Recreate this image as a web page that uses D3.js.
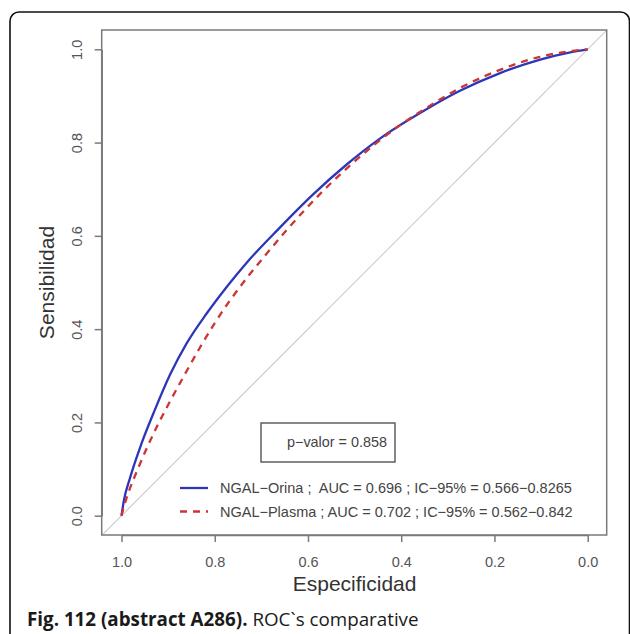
<!DOCTYPE html>
<html><head><meta charset="utf-8">
<script src="https://cdn.jsdelivr.net/npm/d3@7"></script>
<style>body{margin:0;background:#fff}</style>
</head><body><svg id="c" width="630" height="634"></svg>
<script>
// ---- data ----
const orinaSpec = [1.0, 0.995, 0.982, 0.957, 0.928, 0.896, 0.86, 0.817, 0.774, 0.731, 0.664, 0.589, 0.517, 0.445, 0.345, 0.274, 0.188, 0.102, 0.04, 0.0];
const orinaSens = [0.0, 0.032, 0.08, 0.155, 0.228, 0.302, 0.37, 0.434, 0.491, 0.543, 0.614, 0.689, 0.753, 0.809, 0.872, 0.911, 0.949, 0.978, 0.993, 1.0];
const plasmaSpec = [1.0, 0.995, 0.989, 0.96, 0.9245, 0.896, 0.867, 0.832, 0.80, 0.767, 0.731, 0.696, 0.646, 0.567, 0.503, 0.41, 0.353, 0.274, 0.188, 0.102, 0.038, 0.0];
const plasmaSens = [0.0, 0.019, 0.038, 0.112, 0.19, 0.245, 0.298, 0.36, 0.413, 0.462, 0.51, 0.553, 0.612, 0.697, 0.757, 0.832, 0.870, 0.917, 0.956, 0.984, 0.996, 1.0];
const xTicks = [1.0, 0.8, 0.6, 0.4, 0.2, 0.0];
const yTicks = [0.0, 0.2, 0.4, 0.6, 0.8, 1.0];
const seriesNames = ["NGAL\u2212Orina ;  AUC = 0.696 ; IC\u221295% = 0.566\u22120.8265",
                     "NGAL\u2212Plasma ; AUC = 0.702 ; IC\u221295% = 0.562\u22120.842"];
const pValueText = "p\u2212valor = 0.858";
const xTitle = "Especificidad";
const yTitle = "Sensibilidad";
const captionBold = "Fig. 112 (abstract A286).";
const captionRest = " ROC`s comparative";

// ---- drawing ----
const svg = d3.select("#c");
const x = d3.scaleLinear().domain([1, 0]).range([121.5, 587.7]);
const y = d3.scaleLinear().domain([0, 1]).range([515.7, 49.3]);
const plot = {l: 101.7, t: 30, r: 606.7, b: 535};
const font = "Liberation Sans, Arial, sans-serif";

// outer frame
svg.append("rect").attr("x", 10).attr("y", 12).attr("width", 619.5).attr("height", 640)
  .attr("rx", 9).attr("fill", "none").attr("stroke", "#111").attr("stroke-width", 1.6);

// clip
svg.append("clipPath").attr("id", "pc").append("rect")
  .attr("x", plot.l).attr("y", plot.t).attr("width", plot.r - plot.l).attr("height", plot.b - plot.t);

// diagonal reference line (spans whole plot region)
const xd = x.invert(plot.l), xd2 = x.invert(plot.r);
svg.append("line").attr("clip-path", "url(#pc)")
  .attr("x1", x(xd)).attr("y1", y(1 - xd)).attr("x2", x(xd2)).attr("y2", y(1 - xd2))
  .attr("stroke", "#cfcfcf").attr("stroke-width", 1.2);

const line = d3.line().x(d => x(d[0])).y(d => y(d[1])).curve(d3.curveMonotoneX);
const orina = orinaSpec.map((s, i) => [s, orinaSens[i]]);
const plasma = plasmaSpec.map((s, i) => [s, plasmaSens[i]]);

svg.append("path").datum(orina).attr("d", line).attr("fill", "none")
  .attr("stroke", "#2e36b8").attr("stroke-width", 2.3);
svg.append("path").datum(plasma).attr("d", line).attr("fill", "none")
  .attr("stroke", "#cc3535").attr("stroke-width", 2.3).attr("stroke-dasharray", "7,6");

// plot box
svg.append("rect").attr("x", plot.l).attr("y", plot.t).attr("width", plot.r - plot.l)
  .attr("height", plot.b - plot.t).attr("fill", "none").attr("stroke", "#7a7a7a").attr("stroke-width", 1.5);

// axes
const fmt = d3.format(".1f");
const gx = svg.append("g").attr("transform", `translate(0,${plot.b})`)
  .call(d3.axisBottom(x).tickValues(xTicks).tickFormat(fmt).tickSize(7).tickSizeOuter(0));
gx.selectAll("text").attr("y", 32).attr("dy", 0);
const gy = svg.append("g").attr("transform", `translate(${plot.l},0)`)
  .call(d3.axisLeft(y).tickValues(yTicks).tickFormat(fmt).tickSize(7).tickSizeOuter(0));
gy.selectAll("text").attr("transform", "rotate(-90)").attr("x", 0).attr("y", -20)
  .attr("dy", 0).attr("text-anchor", "middle");
[gx, gy].forEach(g => {
  g.select(".domain").attr("stroke", "#7a7a7a").attr("stroke-width", 1.5);
  g.selectAll(".tick line").attr("stroke", "#7a7a7a").attr("stroke-width", 1.5);
  g.selectAll("text").attr("fill", "#555").attr("font-family", font).attr("font-size", 14.5);
});

// axis titles
svg.append("text").attr("x", (x(1) + x(0)) / 2).attr("y", 591).attr("text-anchor", "middle")
  .attr("font-family", font).attr("font-size", 21).attr("fill", "#333").text(xTitle);
svg.append("text").attr("transform", `translate(53.5,${(y(0) + y(1)) / 2}) rotate(-90)`)
  .attr("text-anchor", "middle")
  .attr("font-family", font).attr("font-size", 21).attr("fill", "#333").text(yTitle);

// p-value box
svg.append("rect").attr("x", 261).attr("y", 423).attr("width", 134).attr("height", 39)
  .attr("fill", "#fff").attr("stroke", "#555").attr("stroke-width", 1.4);
svg.append("text").attr("x", 287).attr("y", 447)
  .attr("font-family", font).attr("font-size", 14.4).attr("fill", "#444").text(pValueText);

// legend
const legend = [
  {name: seriesNames[0], color: "#2e36b8", dash: null, yy: 488},
  {name: seriesNames[1], color: "#cc3535", dash: "7,6", yy: 511.5}
];
legend.forEach(d => {
  svg.append("line").attr("x1", 180).attr("x2", 208).attr("y1", d.yy).attr("y2", d.yy)
    .attr("stroke", d.color).attr("stroke-width", 2.3).attr("stroke-dasharray", d.dash);
  svg.append("text").attr("x", 220).attr("y", d.yy + 5)
    .attr("font-family", font).attr("font-size", 14.5).attr("fill", "#444")
    .style("white-space", "pre").text(d.name);
});

// caption
const cap = svg.append("text").attr("x", 27).attr("y", 626)
  .attr("font-family", "Open Sans, sans-serif").attr("font-size", 18.8).attr("fill", "#1a1a1a")
  .style("white-space", "pre");
cap.append("tspan").attr("font-weight", "bold").text(captionBold);
cap.append("tspan").text(captionRest);
</script>
</body></html>
